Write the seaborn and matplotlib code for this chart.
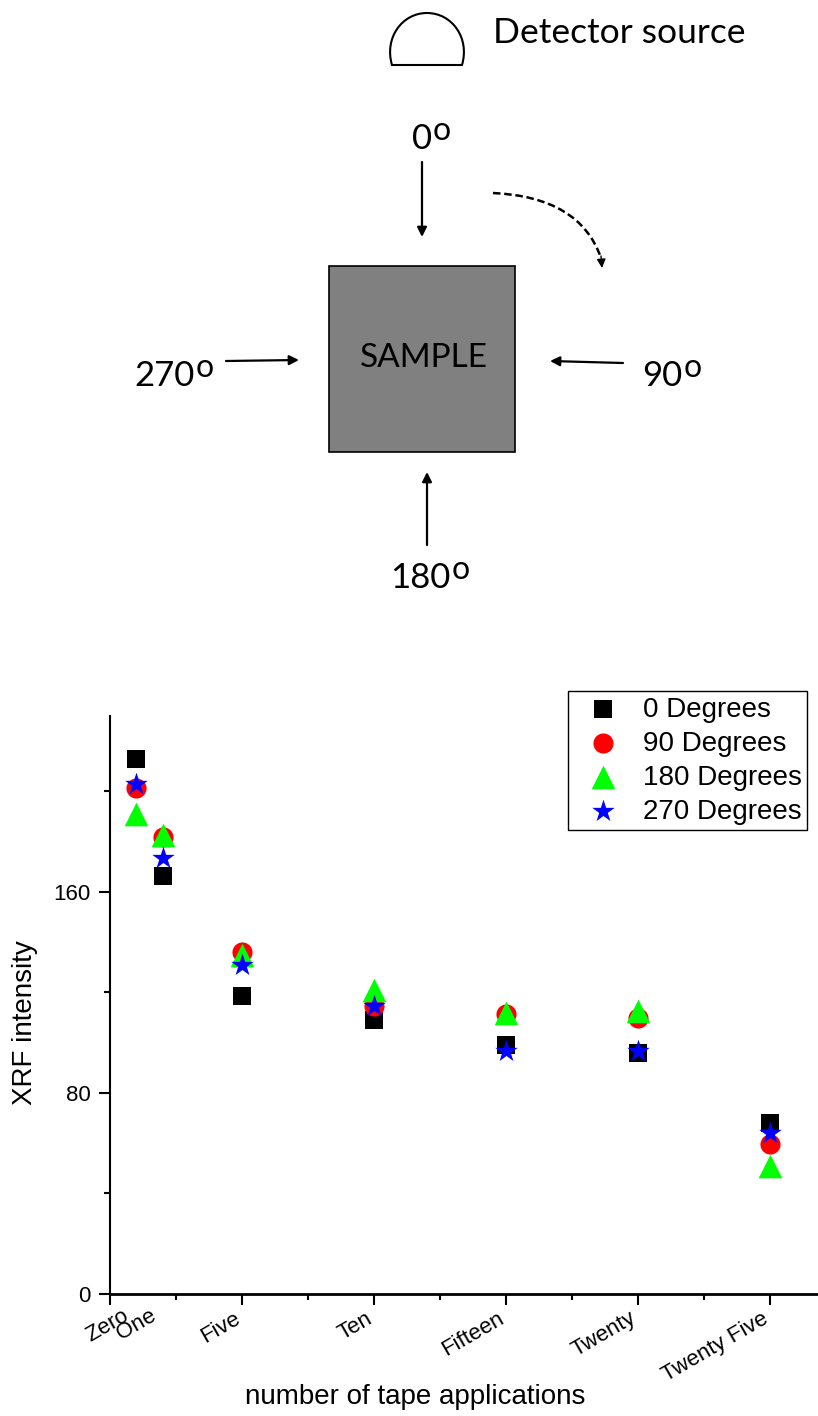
import matplotlib
matplotlib.use('Agg')
import matplotlib.pyplot as plt
from matplotlib.patches import PathPatch, Rectangle
from matplotlib.path import Path
from matplotlib.transforms import ScaledTranslation
import seaborn as sns

# values
tape_x = [1, 2, 5, 10, 15, 20, 25]
deg_0 = [213, 166.5, 118.5, 109, 99, 96, 68]
deg_90 = [201.5, 182, 136, 114.5, 111.5, 110, 59.5]
deg_180 = [191, 182.5, 135, 121, 112, 112.5, 51]
deg_270 = [203, 173.5, 131, 114.5, 96.5, 96.5, 64]

series_names = ['0 Degrees', '90 Degrees', '180 Degrees', '270 Degrees']
major_ticks = [0, 5, 10, 15, 20, 25]
major_labels = ['', 'Five', 'Ten', 'Fifteen', 'Twenty', 'Twenty Five']
minor_ticks = [2.5, 7.5, 12.5, 17.5, 22.5]

W, H = 818, 1416

sns.set_style('ticks')
plt.rcParams['font.family'] = ['Liberation Sans', 'DejaVu Sans']
plt.rcParams['text.color'] = 'black'
plt.rcParams['xtick.labelcolor'] = 'black'
plt.rcParams['ytick.labelcolor'] = 'black'
plt.rcParams['axes.edgecolor'] = 'black'
plt.rcParams['xtick.color'] = 'black'
plt.rcParams['ytick.color'] = 'black'

fig = plt.figure(figsize=(W / 100, H / 100), dpi=100)

# Scatter panel
ax = fig.add_axes([110 / W, 1 - 1294 / H, (W - 110) / W, (1294 - 716) / H])
styles = [('s', 'black', 155), ('o', 'red', 210), ('^', 'lime', 290), ('*', 'blue', 290)]
for name, vals, (mk, col, size) in zip(series_names, [deg_0, deg_90, deg_180, deg_270], styles):
    sns.scatterplot(x=tape_x, y=vals, marker=mk, color=col, s=size, linewidth=0,
                    label=name, ax=ax, clip_on=False)

ax.set_xlim(0, 26.82)
ax.set_ylim(0, 230)
sns.despine(ax=ax)
ax.spines['left'].set_linewidth(1.5)
ax.spines['bottom'].set_linewidth(2)
ax.set_yticks([0, 80, 160])
ax.set_yticks([40, 120, 200], minor=True)
ax.set_xticks(major_ticks, labels=major_labels, rotation=30, ha='right', rotation_mode='anchor')
ax.set_xticks(minor_ticks, minor=True)
ax.tick_params(axis='both', which='major', length=8, width=1.5, labelsize=16)
ax.tick_params(axis='both', which='minor', length=4, width=1.5)
ax.tick_params(axis='x', which='major', pad=2)
ax.tick_params(axis='y', which='major', pad=6)
for lab in ax.get_xticklabels():
    lab.set_transform(lab.get_transform() + ScaledTranslation(-6 / 72, 0, fig.dpi_scale_trans))
for lab, xpos in [('Zero', 0.45), ('One', 1.5)]:
    ax.text(xpos, -4.5, lab, rotation=30, ha='right', va='top', rotation_mode='anchor', fontsize=16)
ax.set_xlabel('')
ax.set_ylabel('')
fig.text(415 / W, 1 - 1397 / H, 'number of tape applications', fontsize=20, ha='center', va='center')
fig.text(25 / W, 1 - 1023 / H, 'XRF intensity', fontsize=20, rotation=90, ha='center', va='center')

leg = ax.legend(loc='upper right', bbox_to_anchor=(807 / W, 1 - 691 / H), bbox_transform=fig.transFigure,
                frameon=True, fancybox=False, framealpha=1, edgecolor='black', fontsize=20,
                borderaxespad=0, borderpad=0.2, labelspacing=0.29, handletextpad=0.35, handlelength=2.15)
leg.get_frame().set_linewidth(1)

# Schematic on top, drawn in pixel coordinates
sk = fig.add_axes([0, 0, 1, 1], zorder=-1)
sk.set_xlim(0, W)
sk.set_ylim(H, 0)
sk.axis('off')

sk.add_patch(Rectangle((329, 266), 186, 186, facecolor='#808080', edgecolor='black', linewidth=1.2))

dome = Path([(392, 65), (384, 38), (402, 13), (427, 13), (452, 13), (470, 38), (462, 65), (392, 65)],
            [Path.MOVETO, Path.CURVE4, Path.CURVE4, Path.CURVE4, Path.CURVE4, Path.CURVE4, Path.CURVE4, Path.CLOSEPOLY])
sk.add_patch(PathPatch(dome, facecolor='white', edgecolor='black', linewidth=1.5))

font_sk = ['Lato', 'DejaVu Sans']
sk.text(493, 33, 'Detector source', fontsize=25.5, family=font_sk, va='center', ha='left')
sk.text(424, 358, 'SAMPLE', fontsize=24, family=font_sk, va='center', ha='center')

for label, x, y in [('0', 412, 139), ('270', 134, 376), ('90', 642, 376), ('180', 390, 578)]:
    t = sk.text(x, y, label, fontsize=25, family=font_sk, va='center', ha='left')
    fig.canvas.draw()
    box = t.get_window_extent().transformed(sk.transData.inverted())
    sk.text(box.x1 + 1, y - 8, 'o', fontsize=23, family=font_sk, va='center', ha='left')

for start, end in [((422, 162), (422, 237)), ((226, 361), (299, 360)),
                   ((623, 363), (550, 361)), ((427, 545), (427, 472))]:
    sk.annotate('', xy=end, xytext=start,
                arrowprops=dict(arrowstyle='-|>', color='black', lw=1.6, shrinkA=0, shrinkB=0, mutation_scale=14))

curve = Path([(493, 193), (580, 197), (601, 258)], [Path.MOVETO, Path.CURVE3, Path.CURVE3])
sk.add_patch(PathPatch(curve, facecolor='none', edgecolor='black', linewidth=1.8, linestyle=(0, (3, 1.5))))
sk.annotate('', xy=(602, 268), xytext=(601, 256),
            arrowprops=dict(arrowstyle='-|>', color='black', lw=1, shrinkA=0, shrinkB=0, mutation_scale=13))

fig.savefig('out.png', dpi=100)
